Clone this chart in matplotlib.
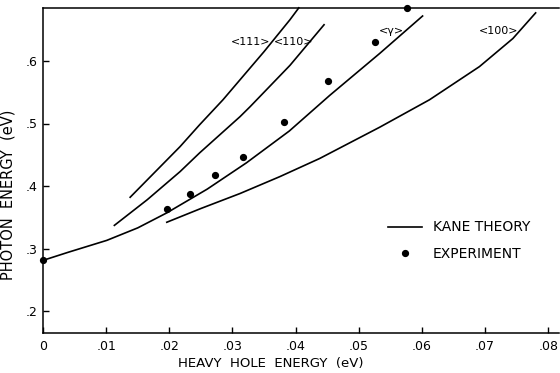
import matplotlib
matplotlib.use("Agg")
import matplotlib.pyplot as plt
from matplotlib.lines import Line2D

# Kane theory curves (heavy hole energy eV, photon energy eV)
gamma_x = [0.0, 0.004, 0.0101, 0.015, 0.0196, 0.0260, 0.0322, 0.0390, 0.0454, 0.0533, 0.0601]
gamma_y = [0.281, 0.294, 0.313, 0.333, 0.357, 0.395, 0.437, 0.488, 0.545, 0.612, 0.672]

d111_x = [0.0138, 0.0217, 0.0248, 0.0285, 0.0312, 0.0350, 0.0391, 0.0405]
d111_y = [0.382, 0.463, 0.498, 0.538, 0.570, 0.615, 0.666, 0.685]

d110_x = [0.0113, 0.0165, 0.0217, 0.0248, 0.0312, 0.0328, 0.0391, 0.0445]
d110_y = [0.337, 0.378, 0.423, 0.453, 0.511, 0.527, 0.593, 0.658]

d100_x = [0.0196, 0.0250, 0.0312, 0.0375, 0.0438, 0.0533, 0.0612, 0.0691, 0.0744, 0.0780]
d100_y = [0.342, 0.364, 0.388, 0.415, 0.444, 0.494, 0.538, 0.591, 0.636, 0.677]

# Experiment
exp_x = [0.0, 0.0196, 0.0233, 0.0272, 0.0317, 0.0381, 0.0451, 0.0525, 0.0577]
exp_y = [0.281, 0.364, 0.388, 0.417, 0.447, 0.502, 0.568, 0.630, 0.685]

x_ticks = [0, 0.01, 0.02, 0.03, 0.04, 0.05, 0.06, 0.07, 0.08]
x_tick_labels = ["0", ".01", ".02", ".03", ".04", ".05", ".06", ".07", ".08"]
y_ticks = [0.2, 0.3, 0.4, 0.5, 0.6]
y_tick_labels = [".2", ".3", ".4", ".5", ".6"]

labels = ["<111>", "<110>", "<\u03b3>", "<100>"]
label_x = [0.0329, 0.0397, 0.0552, 0.0722]
label_y = [0.630, 0.630, 0.648, 0.648]

plt.rcParams['font.family'] = ['DejaVu Sans']

fig = plt.figure(figsize=(5.6, 3.73), dpi=100)
ax = fig.add_axes([43/560, 40/373, 516/560, 325/373])

lw = 1.2
for xs, ys in [(gamma_x, gamma_y), (d111_x, d111_y), (d110_x, d110_y), (d100_x, d100_y)]:
    ax.plot(xs, ys, color='black', lw=lw, clip_on=False, solid_joinstyle='round')
ax.plot(exp_x, exp_y, 'o', color='black', markersize=4.2, clip_on=False, zorder=5)

for t, lx, ly in zip(labels, label_x, label_y):
    ax.text(lx, ly, t, ha='center', va='center', fontsize=8)

ax.set_xlim(0, 0.0817)
ax.set_ylim(0.1648, 0.6848)
ax.set_xticks(x_ticks)
ax.set_xticklabels(x_tick_labels)
ax.set_yticks(y_ticks)
ax.set_yticklabels(y_tick_labels)
ax.tick_params(direction='in', length=4, width=1, labelsize=9, colors='black')
ax.tick_params(axis='x', pad=5)
ax.tick_params(axis='y', pad=4)
ax.spines['right'].set_visible(False)
for s in ['left', 'bottom', 'top']:
    ax.spines[s].set_linewidth(1.1)

ax.set_xlabel("HEAVY  HOLE  ENERGY  (eV)", fontsize=9.5, labelpad=4)
ax.xaxis.set_label_coords(0.442, -0.075)
ax.set_ylabel("PHOTON  ENERGY  (eV)", fontsize=10.5)
ax.yaxis.set_label_coords(-0.054, 0.425)

handles = [Line2D([], [], color='black', lw=lw),
           Line2D([], [], color='black', marker='o', markersize=4.2, lw=0)]
ax.legend(handles, ["KANE THEORY", "EXPERIMENT"], frameon=False,
          loc='upper left', bbox_to_anchor=(0.645, 0.385), fontsize=10,
          handlelength=2.4, labelspacing=0.9, handletextpad=0.8)

fig.savefig("out.png", dpi=100)
